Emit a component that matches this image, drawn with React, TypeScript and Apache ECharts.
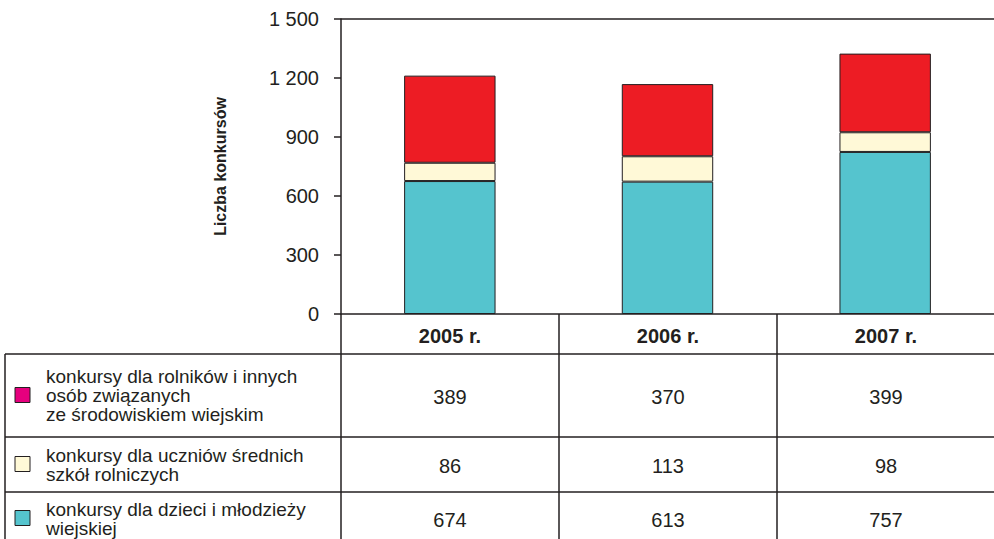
import React, { useEffect, useRef } from "react";
import * as echarts from "echarts";

// Categories (table header / x axis)
const categories = ["2005 r.", "2006 r.", "2007 r."];

// Bar heights as drawn in the picture
const barDzieci = [676, 673, 824];
const barUczniowie = [93, 129, 100];
const barRolnicy = [443, 367, 400];

// Values printed in the data table
const tableRolnicy = [389, 370, 399];
const tableUczniowie = [86, 113, 98];
const tableDzieci = [674, 613, 757];

// Row labels of the data table (top to bottom)
const rowLabels = [
  "konkursy dla rolników i innych\nosób związanych\nze środowiskiem wiejskim",
  "konkursy dla uczniów średnich\nszkół rolniczych",
  "konkursy dla dzieci i młodzieży\nwiejskiej",
];
const seriesNames = [
  "konkursy dla rolników i innych osób związanych ze środowiskiem wiejskim",
  "konkursy dla uczniów średnich szkół rolniczych",
  "konkursy dla dzieci i młodzieży wiejskiej",
];

const yTicks = { min: 0, max: 1500, interval: 300 };
const yAxisName = "Liczba konkursów";

const FONT = "'Liberation Sans', Arial, Helvetica, sans-serif";
const INK = "#231F20";
const C_CYAN = "#55C4CE";
const C_CREAM = "#FFF9D7";
const C_RED = "#ED1C24";
const C_MAGENTA = "#E6007E";

export default function App() {
  const ref = useRef<HTMLDivElement>(null);

  useEffect(() => {
    if (!ref.current) return;
    const chart = echarts.init(ref.current, null, { renderer: "svg" });

    const gridLeft = 341;
    const gridTop = 19;
    const gridW = 654;
    const gridH = 295;
    const axisY = gridTop + gridH; // 314
    const colW = gridW / categories.length;
    const tableLeft = 5;
    const rowEdges = [354, 437, 492, 545];
    const headerY = 336;
    const lineStyle = { stroke: INK, lineWidth: 1.5 };

    const tableRows = [
      { label: rowLabels[0], values: tableRolnicy, color: C_MAGENTA },
      { label: rowLabels[1], values: tableUczniowie, color: C_CREAM },
      { label: rowLabels[2], values: tableDzieci, color: C_CYAN },
    ];

    const graphics: any[] = [];
    // top border of plot area
    graphics.push({
      type: "line",
      shape: { x1: gridLeft, y1: gridTop, x2: gridLeft + gridW, y2: gridTop },
      style: lineStyle,
      silent: true,
    });
    // horizontal table lines
    rowEdges.slice(0, 3).forEach((y) => {
      graphics.push({
        type: "line",
        shape: { x1: tableLeft, y1: y, x2: gridLeft + gridW, y2: y },
        style: lineStyle,
        silent: true,
      });
    });
    // vertical table lines
    graphics.push({
      type: "line",
      shape: { x1: tableLeft, y1: rowEdges[0], x2: tableLeft, y2: 545 },
      style: lineStyle,
      silent: true,
    });
    for (let i = 0; i < categories.length; i++) {
      const x = gridLeft + colW * i;
      graphics.push({
        type: "line",
        shape: { x1: x, y1: axisY, x2: x, y2: 545 },
        style: lineStyle,
        silent: true,
      });
    }
    // header texts
    categories.forEach((c, i) => {
      graphics.push({
        type: "text",
        x: gridLeft + colW * (i + 0.5),
        y: headerY,
        style: {
          text: c,
          font: `bold 20px ${FONT}`,
          fill: INK,
          align: "center",
          verticalAlign: "middle",
        },
      });
    });
    // rows
    tableRows.forEach((row, r) => {
      const top = rowEdges[r];
      const bottom = rowEdges[r + 1];
      const cy = (top + bottom) / 2;
      graphics.push({
        type: "rect",
        shape: { x: 15, y: cy - 8, width: 15, height: 15 },
        style: { fill: row.color, stroke: INK, lineWidth: 1 },
      });
      graphics.push({
        type: "text",
        x: 46,
        y: cy,
        style: {
          text: row.label,
          font: `19px ${FONT}`,
          lineHeight: 19,
          fill: INK,
          align: "left",
          verticalAlign: "middle",
        },
      });
      row.values.forEach((v, i) => {
        graphics.push({
          type: "text",
          x: gridLeft + colW * (i + 0.5),
          y: cy + 1,
          style: {
            text: String(v),
            font: `20px ${FONT}`,
            fill: INK,
            align: "center",
            verticalAlign: "middle",
          },
        });
      });
    });

    const barStyle = (color: string) => ({
      color,
      borderColor: INK,
      borderWidth: 1,
    });

    chart.setOption({
      animation: false,
      backgroundColor: "#ffffff",
      grid: { left: gridLeft, top: gridTop, width: gridW, height: gridH },
      xAxis: {
        type: "category",
        data: categories,
        axisLine: { show: true, lineStyle: { color: INK, width: 1.5 } },
        axisTick: { show: false },
        axisLabel: { show: false },
        splitLine: { show: false },
      },
      yAxis: {
        type: "value",
        min: yTicks.min,
        max: yTicks.max,
        interval: yTicks.interval,
        name: yAxisName,
        nameLocation: "middle",
        nameRotate: 90,
        nameGap: 113,
        nameTextStyle: {
          fontFamily: FONT,
          fontSize: 16,
          fontWeight: "bold",
          color: INK,
        },
        axisLine: { show: true, lineStyle: { color: INK, width: 1.5 } },
        axisTick: { show: true, length: 7, lineStyle: { color: INK, width: 1.5 } },
        axisLabel: {
          margin: 22,
          fontFamily: FONT,
          fontSize: 20,
          color: INK,
          formatter: (v: number) =>
            String(v).replace(/\B(?=(\d{3})+(?!\d))/g, " "),
        },
        splitLine: { show: false },
      },
      series: [
        {
          name: seriesNames[2],
          type: "bar",
          stack: "total",
          barWidth: "42%",
          data: barDzieci,
          itemStyle: barStyle(C_CYAN),
        },
        {
          name: seriesNames[1],
          type: "bar",
          stack: "total",
          barWidth: "42%",
          data: barUczniowie,
          itemStyle: barStyle(C_CREAM),
        },
        {
          name: seriesNames[0],
          type: "bar",
          stack: "total",
          barWidth: "42%",
          data: barRolnicy,
          itemStyle: barStyle(C_RED),
        },
      ],
      graphic: graphics,
    });

    return () => chart.dispose();
  }, []);

  return (
    <div
      ref={ref}
      style={{ position: "fixed", left: 0, top: 0, width: 994, height: 539, background: "#fff" }}
    />
  );
}
